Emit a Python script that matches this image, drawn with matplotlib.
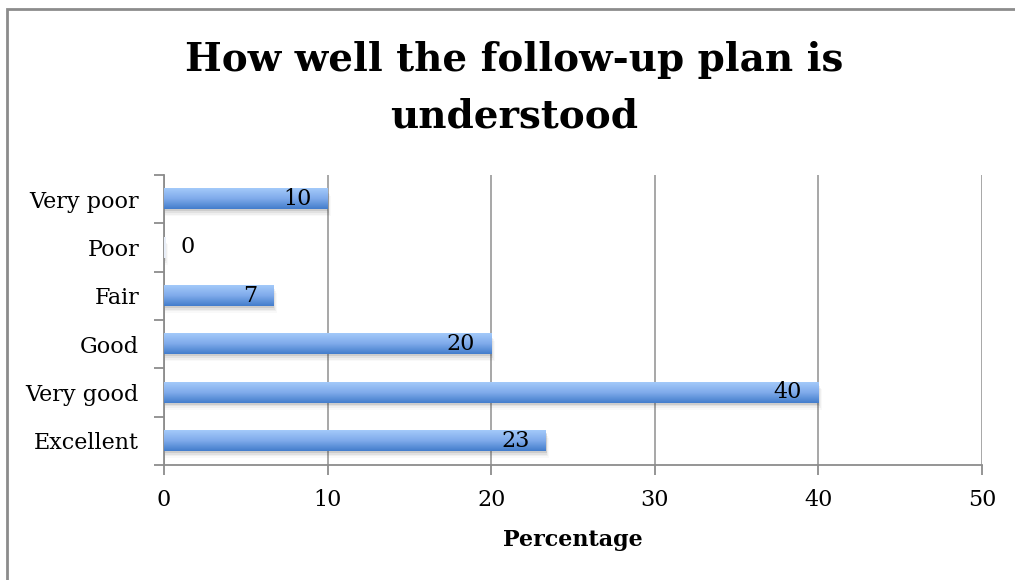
import numpy as np
import matplotlib.pyplot as plt
from matplotlib.patches import Rectangle

categories = ["Very poor", "Poor", "Fair", "Good", "Very good", "Excellent"]
percent = [10.0, 0.0, 6.67, 20.0, 40.0, 23.33]
xticks = [0, 10, 20, 30, 40, 50]

serif = ["DejaVu Serif"]
plt.rcParams["font.family"] = serif

fig = plt.figure(figsize=(10.15, 5.8), dpi=100)
ax = fig.add_axes([0.1616, 0.1983, 0.8059, 0.5000])

# outer chart frame
fig.patches.append(Rectangle((0.007, -0.05), 1.1, 1.034, transform=fig.transFigure,
                             fill=False, edgecolor="#8c8c8c", linewidth=2.0))

ypos = np.arange(len(categories))
h = 0.42

# vertical gradient: light at the top, darker blue at the bottom
grad = np.linspace(0, 1, 64).reshape(-1, 1)
top = np.array([0.64, 0.79, 0.98])
bot = np.array([0.26, 0.49, 0.80])
mid = np.array([0.50, 0.67, 0.92])
cols = np.where(grad[..., None] < 0.5,
                top + (mid - top) * (grad[..., None] / 0.5),
                mid + (bot - mid) * ((grad[..., None] - 0.5) / 0.5))

for y, v in zip(ypos, percent):
    # soft shadow under each bar
    for k, a in enumerate([0.12, 0.08, 0.05, 0.03]):
        ax.add_patch(Rectangle((0.05, y - h / 2 + 0.04 + k * 0.035), v + 0.06 * k, h,
                               facecolor="#404040", alpha=a, edgecolor="none", zorder=2))
    if v > 0:
        ax.imshow(cols, extent=(0, v, y + h / 2, y - h / 2), aspect="auto",
                  interpolation="bilinear", zorder=3)
    else:
        ax.add_patch(Rectangle((0, y - h / 2), 0.15, h, facecolor="#e8eef8",
                               edgecolor="none", zorder=3))
    if v >= 3:
        ax.text(v - 1.0, y, f"{v:.0f}", ha="right", va="center", fontsize=16, zorder=4)
    else:
        ax.text(v + 1.0, y, f"{v:.0f}", ha="left", va="center", fontsize=16, zorder=4)

ax.set_xlim(0, 50)
ax.set_ylim(len(categories) - 0.5, -0.5)
ax.set_xticks(xticks)
ax.set_yticks(ypos)
ax.set_yticklabels(categories)
ax.set_yticks(np.arange(-0.5, len(categories)), minor=True)
ax.tick_params(axis="y", which="major", length=0, pad=18, labelsize=16)
ax.tick_params(axis="y", which="minor", length=7, color="#8c8c8c", width=1.3)
ax.tick_params(axis="x", length=7, color="#8c8c8c", width=1.3, labelsize=16, pad=10)
ax.xaxis.grid(True, color="#a0a0a0", linewidth=1.3)
ax.set_axisbelow(True)
for s in ["top", "right"]:
    ax.spines[s].set_visible(False)
for s in ["left", "bottom"]:
    ax.spines[s].set_color("#8c8c8c")
    ax.spines[s].set_linewidth(1.3)

ax.set_xlabel("Percentage", fontsize=16, fontweight="bold", labelpad=13)
fig.text(0.507, 0.848, "How well the follow-up plan is\nunderstood", ha="center", va="center",
         fontsize=28, fontweight="bold", linespacing=1.6)

fig.savefig("out.png", dpi=100)
